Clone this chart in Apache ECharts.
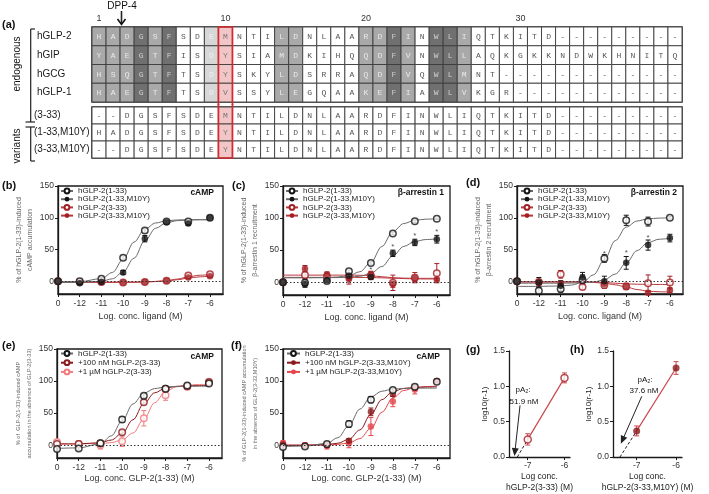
<!DOCTYPE html>
<html><head><meta charset="utf-8">
<script src="https://cdn.jsdelivr.net/npm/echarts@6/dist/echarts.min.js"></script>
<style>html,body{margin:0;padding:0;background:#fff}#c{width:709px;height:494px}</style>
</head><body><div id="c"></div>
<script>
// ================= (a) sequence alignment =================
const positions = ['1','2','3','4','5','6','7','8','9','10','11','12','13','14','15','16','17','18','19','20','21','22','23','24','25','26','27','28','29','30','31','32','33','34','35','36','37','38','39','40','41','42'];
const positionLabels = {0:'1', 9:'10', 19:'20', 30:'30'};
const endoNames = ['hGLP-2','hGIP','hGCG','hGLP-1'];
const endoSeqs = [
  'HADGSFSDEMNTILDNLAARDFINWLIQTKITD---------',
  'YAEGTFISDYSIAMDKIHQQDFVNWLLAQKGKKNDWKHNITQ',
  'HSQGTFTSDYSKYLDSRRAQDFVQWLMNT-------------',
  'HAEGTFTSDVSSYLEGQAAKEFIAWLVKGR------------'];
const varNames = ['(3-33)','(1-33,M10Y)','(3-33,M10Y)'];
const varSeqs = [
  '--DGSFSDEMNTILDNLAARDFINWLIQTKITD---------',
  'HADGSFSDEYNTILDNLAARDFINWLIQTKITD---------',
  '--DGSFSDEYNTILDNLAARDFINWLIQTKITD---------'];
// conservation level per column: 0 none, 1 light, 2 medium, 3 dark, 4 = highlighted position 10
const conservation = [2,2,2,3,2,3,0,0,1,4,0,0,0,2,2,0,0,0,0,2,2,3,2,0,3,3,2,0,0,0,0,0,0,0,0,0,0,0,0,0,0,0];
const highlightCol = 9;

// ================= (b)-(f) concentration response =================
const concX = [-13,-12,-11,-10,-9,-8,-7,-6];          // -13 is the vehicle ("0")
const concTickLabels = ['0','-12','-11','-10','-9','-8','-7','-6'];
const fitX = [-13,-12,-11,-10.5,-10,-9.5,-9,-8.5,-8,-7.5,-7,-6.5,-6];
const pctTicks = [0,50,100,150];

// (b) cAMP
const b_wt = [0,0,4,37,80,94,94,100],      b_wtErr = [0,1,2,3,3,2,2,1];
const b_m10 = [0,-3,-1,14,67,93,91,100],   b_m10Err = [0,2,1,3,5,3,3,1];
const b_t = [0,-1,-1,-2,-1,1,9,11],        b_tErr = [0,1,1,1,1,1,3,3];
const b_tm = [0,-1,-1,-2,-1,1,6,8],        b_tmErr = [0,1,1,1,1,1,2,2];
const b_wtFit = [-1,-0.5,4.2,13.8,34.3,61.7,82.2,91.8,95.3,96.5,96.9,97,97];
const b_m10Fit = [-2,-1.8,0,3.9,14.5,36.3,64,83.5,92.3,95.5,96.5,96.9,97];
const b_tFit = [-1.5,-1.5,-1.5,-1.5,-1.5,-1.4,-1,-0.2,1,3.5,7,9.5,10.5];
const b_tmFit = [-1.5,-1.5,-1.5,-1.5,-1.5,-1.4,-1,-0.4,0.5,2.5,5,7,8];

// (c) beta-arrestin 1
const c_wt = [0,-1,2,17,30,76,95,99],      c_wtErr = [0,5,3,2,2,2,2,1];
const c_m10 = [0,-3,3,10,8,45,62,67],      c_m10Err = [0,5,4,3,3,5,5,6];
const c_t = [0,11,9,9,10,-1,7,14],         c_tErr = [0,5,5,6,6,12,8,15];
const c_tm = [0,21,12,5,12,-3,6,4],        c_tmErr = [0,5,4,8,5,5,5,2];
const c_wtFit = [7,7,7.3,8,10.2,16.3,31,55.7,79,91.5,96.5,98.3,98.7];
const c_m10Fit = [7,7,7,7.2,7.8,9.3,13.9,24.4,41,55.8,63.5,66.5,67.5];
const c_tFit = [11,11,11,11,11,10.8,10,8.5,7,6.3,6,6,6];
const c_tmFit = [7.5,7.5,7.5,7.5,7.5,7.4,7.2,6.8,6.2,5.6,5.2,5,5];
const c_starX = [-9,-8,-7,-6], c_starY = [19,55,72,78];

// (d) beta-arrestin 2
const d_wt = [0,-15,-12,2,36,96,94,100],   d_wtErr = [0,6,5,8,6,8,7,2];
const d_m10 = [0,-2,-7,6,0,29,57,68],      d_m10Err = [0,8,8,8,8,10,8,6];
const d_t = [0,-1,11,-9,-6,-8,-3,-2],      d_tErr = [0,4,6,4,5,5,13,10];
const d_tm = [0,-2,-4,0,-4,-8,-18,-14],    d_tmErr = [0,4,4,3,3,4,3,4];
const d_wtFit = [-8,-8,-7.3,-5.9,-1.6,10,33.8,64,85.3,94.9,98.3,99.5,99.9];
const d_m10Fit = [-3,-3,-3,-2.8,-2.4,-1.2,2.3,11.4,28.9,48.4,61,66.2,67.6];
const d_tFit = [-1,-1,-1,-1,-1,-1.2,-1.8,-3,-4,-4.6,-4.9,-5,-5];
const d_tmFit = [-1,-1,-1,-1,-1.2,-1.8,-3,-5.5,-9,-13,-15.5,-16.5,-17];
const d_starX = [-9,-8,-7], d_starY = [44,45,68];

// (e) cAMP, GLP-2(3-33) antagonism
const e_wt = [-6,-5,3,40,77,88,93,96],     e_wtErr = [3,3,3,4,3,2,3,2];
const e_100 = [2,2,3,20,67,88,92,98],      e_100Err = [3,3,3,3,3,2,2,2];
const e_1u = [5,2,0,6,42,78,91,99],        e_1uErr = [3,5,6,8,12,8,4,2];
const e_wtFit = [-5,-4.2,2.1,14.5,37.9,64.3,81.1,88.3,90.8,91.6,91.8,92,92];
const e_100Fit = [2,2,4,8,18.6,39.7,64.9,81.7,89.1,91.7,92.6,92.9,93];
const e_1uFit = [2,2,2.7,4,8.2,19,40.6,66.3,83.5,91,93.7,94.6,95];

// (f) cAMP, GLP-2(3-33,M10Y) antagonism
const f_wt = [-3,-2,2,33,71,86,91,99],     f_wtErr = [3,3,3,5,5,3,3,2];
const f_100 = [1,-1,0,7,52,80,90,100],     f_100Err = [3,3,3,3,6,4,4,2];
const f_1u = [3,0,-1,3,29,68,87,100],      f_1uErr = [4,4,5,7,14,8,7,2];
const f_wtFit = [-2,-1.5,2.8,11.8,30.7,56.3,75.3,84.2,87.4,88.5,88.8,89,89];
const f_100Fit = [0,0,1,3.1,9.2,23.8,48.1,71.1,83.6,88.5,90.2,90.7,91];
const f_1uFit = [0,0,0.4,1.2,3.5,10.3,26.3,51.4,73.6,85.3,89.8,91.4,92];

// (g),(h) Schild
const schildX = [-7,-6];
const schildTicks = [-7,-6];
const g_y = [0.25,1.12], g_err = [0.08,0.07], g_intercept = -7.285;
const h_y = [0.37,1.26], h_err = [0.07,0.09], h_intercept = -7.425;

// ================= styles =================
const BLACK = '#141414', GRAYLINE = '#6a6a6a';
const RED = '#a41f24', REDLINE = '#b8383c';
const DARKRED = '#8a1a1c', LIGHTRED = '#ef7b7d', BRIGHTRED = '#e4464c';
const shadeFill = ['#ffffff','#d7d7d7','#a9a9a9','#707070','#f2c5c7'];
const shadeText = ['#555555','#f2f2f2','#e9e9e9','#cfcfcf','#777777'];
const FONT = '"Liberation Sans", Arial, sans-serif';

function buildCells(seqs) {
  const cells = [];
  seqs.forEach((s, r) => {
    for (let i = 0; i < s.length; i++) {
      const lvl = seqs === endoSeqs ? conservation[i] : (i === highlightCol ? 4 : 0);
      cells.push([i, r, s[i], lvl]);
    }
  });
  return cells;
}
const endoCells = buildCells(endoSeqs);
const varCells = buildCells(varSeqs);

function cellRenderer(cells) {
  return function (params, api) {
    const cell = cells[params.dataIndex];
    const c = api.coord([cell[0], cell[1]]);
    const s = api.size([1, 1]);
    return {type: 'group', children: [
      {type: 'rect', shape: {x: c[0] - s[0] / 2, y: c[1] - s[1] / 2, width: s[0], height: s[1]},
        style: {fill: shadeFill[cell[3]], stroke: '#3c3c3c', lineWidth: 0.9}},
      {type: 'text', style: {x: c[0], y: c[1] + 0.5, text: cell[2], align: 'center', verticalAlign: 'middle',
        font: '8px "Liberation Mono", "DejaVu Sans Mono", monospace', fill: shadeText[cell[3]]}}
    ]};
  };
}
function outlineRenderer(nRows, openBottom) {
  return function (params, api) {
    const a = api.coord([api.value(0), 0]), b = api.coord([api.value(0), nRows - 1]);
    const s = api.size([1, 1]);
    const x0 = a[0] - s[0] / 2, x1 = a[0] + s[0] / 2;
    let y0 = a[1] - s[1] / 2, y1 = b[1] + s[1] / 2;
    let pts;
    if (openBottom) { y1 += 3; pts = [[x0, y1], [x0, y0], [x1, y0], [x1, y1]]; }
    else { y0 -= 3; pts = [[x0, y0], [x0, y1], [x1, y1], [x1, y0]]; }
    return {type: 'polyline', shape: {points: pts}, style: {fill: 'none', stroke: '#d32a2f', lineWidth: 1.7}};
  };
}

function errRender(params, api) {
  const x = api.value(0), lo = api.value(1), hi = api.value(2);
  if (!(hi - lo > 0)) return null;
  const a = api.coord([x, hi]), b = api.coord([x, lo]);
  const w = 2.5, st = {stroke: api.visual('color'), lineWidth: 1};
  return {type: 'group', children: [
    {type: 'line', shape: {x1: a[0], y1: a[1], x2: b[0], y2: b[1]}, style: st},
    {type: 'line', shape: {x1: a[0] - w, y1: a[1], x2: a[0] + w, y2: a[1]}, style: st},
    {type: 'line', shape: {x1: b[0] - w, y1: b[1], x2: b[0] + w, y2: b[1]}, style: st}]};
}

const series = [];
// alignment
series.push({type: 'custom', xAxisIndex: 0, yAxisIndex: 0, data: endoCells.map(c => [c[0], c[1]]),
  renderItem: cellRenderer(endoCells), silent: true, z: 2});
series.push({type: 'custom', xAxisIndex: 1, yAxisIndex: 1, data: varCells.map(c => [c[0], c[1]]),
  renderItem: cellRenderer(varCells), silent: true, z: 2});
series.push({type: 'custom', xAxisIndex: 0, yAxisIndex: 0, data: [[highlightCol, 0]], clip: false,
  renderItem: outlineRenderer(endoSeqs.length, true), silent: true, z: 5});
series.push({type: 'custom', xAxisIndex: 1, yAxisIndex: 1, data: [[highlightCol, 0]], clip: false,
  renderItem: outlineRenderer(varSeqs.length, false), silent: true, z: 5});

const zeroLine = {silent: true, symbol: 'none', label: {show: false},
  lineStyle: {type: [1.5, 2], color: '#333', width: 1}, data: [{yAxis: 0}]};

function addGroup(gi, name, means, errs, fit, color, lineColor, open, withZero) {
  const s = {type: 'line', name, xAxisIndex: gi, yAxisIndex: gi,
    data: fitX.map((x, i) => [x, fit[i]]), smooth: 0.35, smoothMonotone: 'x', showSymbol: false,
    symbol: open ? 'emptyCircle' : 'circle', lineStyle: {color: lineColor, width: 1},
    itemStyle: {color: color}, z: 2, silent: true};
  if (withZero) s.markLine = zeroLine;
  series.push(s);
  series.push({type: 'custom', name: name + ' SEM', xAxisIndex: gi, yAxisIndex: gi,
    data: concX.map((x, i) => [x, means[i] - errs[i], means[i] + errs[i]]),
    renderItem: errRender, itemStyle: {color: color}, z: 3, silent: true});
  series.push({type: 'scatter', name: name + ' mean', xAxisIndex: gi, yAxisIndex: gi,
    data: concX.map((x, i) => [x, means[i]]), symbol: 'circle', symbolSize: 6.5,
    itemStyle: open ? {color: '#fff', borderColor: color, borderWidth: 1.5} : {color: color},
    z: 4, silent: true});
}
function addStars(gi, xs, ys) {
  series.push({type: 'scatter', xAxisIndex: gi, yAxisIndex: gi, data: xs.map((x, i) => [x, ys[i]]),
    symbolSize: 1, itemStyle: {color: 'rgba(0,0,0,0)'}, silent: true, z: 5,
    label: {show: true, formatter: '*', position: 'inside', fontSize: 8, color: '#222'}});
}
const N1 = 'hGLP-2(1-33)', N2 = 'hGLP-2(1-33,M10Y)', N3 = 'hGLP-2(3-33)', N4 = 'hGLP-2(3-33,M10Y)';
// (b)
addGroup(2, N3, b_t, b_tErr, b_tFit, RED, REDLINE, true, true);
addGroup(2, N4, b_tm, b_tmErr, b_tmFit, RED, REDLINE, false, false);
addGroup(2, N1, b_wt, b_wtErr, b_wtFit, BLACK, GRAYLINE, true, false);
addGroup(2, N2, b_m10, b_m10Err, b_m10Fit, BLACK, GRAYLINE, false, false);
// (c)
addGroup(3, N3, c_t, c_tErr, c_tFit, RED, REDLINE, true, true);
addGroup(3, N4, c_tm, c_tmErr, c_tmFit, RED, REDLINE, false, false);
addGroup(3, N1, c_wt, c_wtErr, c_wtFit, BLACK, GRAYLINE, true, false);
addGroup(3, N2, c_m10, c_m10Err, c_m10Fit, BLACK, GRAYLINE, false, false);
addStars(3, c_starX, c_starY);
// (d)
addGroup(4, N3, d_t, d_tErr, d_tFit, RED, REDLINE, true, true);
addGroup(4, N4, d_tm, d_tmErr, d_tmFit, RED, REDLINE, false, false);
addGroup(4, N1, d_wt, d_wtErr, d_wtFit, BLACK, GRAYLINE, true, false);
addGroup(4, N2, d_m10, d_m10Err, d_m10Fit, BLACK, GRAYLINE, false, false);
addStars(4, d_starX, d_starY);
// (e)
const E2 = '+100 nM hGLP-2(3-33)', E3 = '+1 µM hGLP-2(3-33)';
addGroup(5, E3, e_1u, e_1uErr, e_1uFit, LIGHTRED, LIGHTRED, true, true);
addGroup(5, E2, e_100, e_100Err, e_100Fit, DARKRED, DARKRED, true, false);
addGroup(5, N1, e_wt, e_wtErr, e_wtFit, BLACK, GRAYLINE, true, false);
// (f)
const F2 = '+100 nM hGLP-2(3-33,M10Y)', F3 = '+1 µM hGLP-2(3-33,M10Y)';
addGroup(6, F3, f_1u, f_1uErr, f_1uFit, BRIGHTRED, BRIGHTRED, false, true);
addGroup(6, F2, f_100, f_100Err, f_100Fit, DARKRED, DARKRED, false, false);
addGroup(6, N1, f_wt, f_wtErr, f_wtFit, BLACK, GRAYLINE, true, false);

// (g),(h) Schild plots
function addSchild(gi, ys, errs, intercept, color, open, arrowFrom, arrowTo) {
  series.push({type: 'line', xAxisIndex: gi, yAxisIndex: gi, data: [[intercept, 0], [schildX[0], ys[0]]],
    showSymbol: false, lineStyle: {color: '#222', width: 1, type: [3, 2]}, silent: true, z: 2,
    markLine: {silent: true, symbol: ['none', 'triangle'], symbolSize: [7, 8], label: {show: false},
      lineStyle: {color: '#222', width: 1, type: 'solid'},
      data: [[{coord: arrowFrom}, {coord: arrowTo}]]}});
  series.push({type: 'line', xAxisIndex: gi, yAxisIndex: gi, data: schildX.map((x, i) => [x, ys[i]]),
    showSymbol: false, lineStyle: {color: '#c9474b', width: 1.2}, silent: true, z: 2});
  series.push({type: 'custom', xAxisIndex: gi, yAxisIndex: gi,
    data: schildX.map((x, i) => [x, ys[i] - errs[i], ys[i] + errs[i]]),
    renderItem: errRender, itemStyle: {color: '#c9474b'}, z: 3, silent: true});
  series.push({type: 'scatter', xAxisIndex: gi, yAxisIndex: gi, data: schildX.map((x, i) => [x, ys[i]]),
    symbolSize: 7, itemStyle: open ? {color: '#fff', borderColor: color, borderWidth: 1.5} : {color: color},
    z: 4, silent: true});
}
addSchild(7, g_y, g_err, g_intercept, RED, true, [-7.21, 0.73], [-7.35, 0.07]);
addSchild(8, h_y, h_err, h_intercept, DARKRED, false, [-6.87, 0.86], [-7.36, 0.24]);

// ================= axes =================
const grids = [
  {left: 92, top: 27, width: 590, height: 75},
  {left: 92, top: 107, width: 590, height: 51},
  {left: 58, top: 186, width: 165, height: 108},
  {left: 283, top: 186, width: 167, height: 109},
  {left: 517, top: 186, width: 166, height: 108},
  {left: 57, top: 349, width: 165, height: 109},
  {left: 283, top: 349, width: 167, height: 109},
  {left: 509, top: 351, width: 61, height: 109},
  {left: 613, top: 351, width: 69, height: 109}
].map((g, i) => Object.assign(g, i >= 2 && i <= 6 ? {show: true, borderColor: '#1a1a1a', borderWidth: 1.3} : (i < 2 ? {show: true, borderColor: '#333', borderWidth: 1.6} : {})));

const xAxes = [
  {type: 'category', gridIndex: 0, data: positions, position: 'top',
    axisLine: {show: false}, axisTick: {show: false}, splitLine: {show: false},
    axisLabel: {interval: 0, formatter: (v, i) => positionLabels[i] || '', fontSize: 9, color: '#333', margin: 4}},
  {type: 'category', gridIndex: 1, data: positions, show: false}
];
const yAxes = [
  {type: 'category', gridIndex: 0, data: endoNames, inverse: true, axisLine: {show: false}, axisTick: {show: false},
    axisLabel: {align: 'left', margin: 55, fontSize: 10, color: '#1a1a1a'}},
  {type: 'category', gridIndex: 1, data: varNames, inverse: true, axisLine: {show: false}, axisTick: {show: false},
    axisLabel: {align: 'left', margin: 58, fontSize: 10, color: '#1a1a1a'}}
];
function concXAxis(gi, name, gap) {
  return {type: 'value', gridIndex: gi, min: -13, max: -5.4, name, nameLocation: 'middle', nameGap: gap,
    nameTextStyle: {fontSize: 9, color: '#333'},
    axisLine: {onZero: false, lineStyle: {color: '#1a1a1a', width: 1.3}},
    axisTick: {customValues: concX, length: 3, lineStyle: {color: '#1a1a1a', width: 1}},
    axisLabel: {customValues: concX, formatter: v => concTickLabels[concX.indexOf(v)], fontSize: 8.5, color: '#333', margin: 5},
    splitLine: {show: false}};
}
function pctYAxis(gi, name, fs, lh, gap) {
  return {type: 'value', gridIndex: gi, min: -20, max: 150, name, nameLocation: 'middle', nameGap: gap, nameRotate: 90,
    nameTextStyle: {fontSize: fs, lineHeight: lh, color: '#666'},
    axisLine: {onZero: false, lineStyle: {color: '#1a1a1a', width: 1.3}},
    axisTick: {customValues: pctTicks, length: 3, lineStyle: {color: '#1a1a1a'}},
    axisLabel: {customValues: pctTicks, fontSize: 8.5, color: '#333', margin: 4},
    splitLine: {show: false}};
}
function schildXAxis(gi, min, name) {
  return {type: 'value', gridIndex: gi, min, max: -5.85, name, nameLocation: 'middle', nameGap: 13,
    nameTextStyle: {fontSize: 8.5, color: '#222', lineHeight: 11},
    axisLine: {onZero: false, lineStyle: {color: '#1a1a1a', width: 1.3}},
    axisTick: {customValues: schildTicks, length: 3, lineStyle: {color: '#1a1a1a'}},
    axisLabel: {customValues: schildTicks, fontSize: 8.5, color: '#333', margin: 4}, splitLine: {show: false}};
}
function schildYAxis(gi) {
  return {type: 'value', gridIndex: gi, min: 0, max: 1.5, interval: 0.5, name: 'log10(r-1)', nameLocation: 'middle',
    nameGap: 20, nameRotate: 90, nameTextStyle: {fontSize: 8, color: '#222'},
    axisLine: {onZero: false, lineStyle: {color: '#1a1a1a', width: 1.3}},
    axisTick: {length: 3, lineStyle: {color: '#1a1a1a'}},
    axisLabel: {formatter: v => v.toFixed(1), fontSize: 8.5, color: '#333', margin: 4}, splitLine: {show: false}};
}
xAxes.push(concXAxis(2, 'Log. conc. ligand (M)', 18));
xAxes.push(concXAxis(3, 'Log. conc. ligand (M)', 18));
xAxes.push(concXAxis(4, 'Log. conc. ligand (M)', 18));
xAxes.push(concXAxis(5, 'Log. conc. GLP-2(1-33) (M)', 16));
xAxes.push(concXAxis(6, 'Log. conc. GLP-2(1-33) (M)', 16));
xAxes.push(schildXAxis(7, -7.51, 'Log conc.\nhGLP-2(3-33) (M)'));
xAxes.push(schildXAxis(8, -7.6, 'Log conc.\nhGLP-2(3-33,M10Y) (M)'));
yAxes.push(pctYAxis(2, '% of hGLP-2(1-33)-induced\ncAMP accumulation', 7, 11, 19));
yAxes.push(pctYAxis(3, '% of hGLP-2(1-33)-induced\nβ-arrestin 1 recruitment', 7, 11, 19));
yAxes.push(pctYAxis(4, '% of hGLP-2(1-33)-induced\nβ-arrestin 2 recruitment', 7, 11, 19));
yAxes.push(pctYAxis(5, '% of  GLP-2(1-33)-induced cAMP\naccumulation in the absence of GLP-2(3-33)', 5.6, 11, 20));
yAxes.push(pctYAxis(6, '% of GLP-2(1-33)-induced cAMP accumulation\nin the absence of GLP-2(3-33,M10Y)', 5.6, 11, 20));
yAxes.push(schildYAxis(7));
yAxes.push(schildYAxis(8));

function legendAt(left, top, names, lh, iw) {
  return {data: names, left, top, orient: 'vertical', itemWidth: iw, itemHeight: 6, itemGap: 0.2, padding: 0,
    selectedMode: false, textStyle: {fontSize: 8, color: '#222', lineHeight: lh, fontFamily: FONT}};
}
const legends = [
  legendAt(60, 187, [N1, N2, N3, N4], 7.2, 12),
  legendAt(285, 187, [N1, N2, N3, N4], 7.2, 12),
  legendAt(520, 187, [N1, N2, N3, N4], 7.2, 12),
  legendAt(60, 349, [N1, E2, E3], 9, 12),
  legendAt(286, 349, [N1, F2, F3], 9, 13)
];

// ================= annotations =================
const T = (x, y, text, font, opts) => Object.assign({type: 'text', x, y, silent: true,
  style: Object.assign({text, font: font + ' ' + FONT, fill: '#111', align: 'left', verticalAlign: 'middle'}, (opts || {}).style || {})},
  (opts || {}).el || {});
const L = (x1, y1, x2, y2, w) => ({type: 'line', silent: true, shape: {x1, y1, x2, y2}, style: {stroke: '#222', lineWidth: w || 1.2}});
const graphic = [
  T(2, 25, '(a)', 'bold 11px'),
  T(122, 6, 'DPP-4', '10px', {style: {align: 'center'}}),
  L(121.5, 11, 121.5, 24, 1.6),
  {type: 'polyline', silent: true, shape: {points: [[117.5, 19], [121.5, 24.5], [125.5, 19]]}, style: {stroke: '#111', lineWidth: 1.6, fill: 'none'}},
  T(17, 64, 'endogenous', '10px', {style: {align: 'center'}, el: {rotation: Math.PI / 2}}),
  L(30.7, 29, 30.7, 122), L(30.7, 29, 35, 29), L(25.5, 122, 35, 122),
  T(17, 146, 'variants', '10px', {style: {align: 'center'}, el: {rotation: Math.PI / 2}}),
  L(30.7, 127, 30.7, 161), L(25.5, 127, 35, 127), L(30.7, 161, 35, 161),
  T(2, 186, '(b)', 'bold 11px'), T(232, 186, '(c)', 'bold 11px'), T(466, 183, '(d)', 'bold 11px'),
  T(2, 346, '(e)', 'bold 11px'), T(231, 346, '(f)', 'bold 11px'),
  T(466, 350, '(g)', 'bold 11px'), T(570, 350, '(h)', 'bold 11px'),
  T(214, 193, 'cAMP', 'bold 8.5px', {style: {align: 'right'}}),
  T(444, 193, 'β-arrestin 1', 'bold 8.5px', {style: {align: 'right'}}),
  T(677, 193, 'β-arrestin 2', 'bold 8.5px', {style: {align: 'right'}}),
  T(214, 357, 'cAMP', 'bold 8.5px', {style: {align: 'right'}}),
  T(440, 357, 'cAMP', 'bold 8.5px', {style: {align: 'right'}}),
  T(523, 390, 'pA₂:', '8px', {style: {align: 'center'}}),
  T(524, 402, '51.9 nM', '8px', {style: {align: 'center'}}),
  T(645, 380, 'pA₂:', '8px', {style: {align: 'center'}}),
  T(644, 391, '37.6 nM', '8px', {style: {align: 'center'}})
];

const chart = echarts.init(document.getElementById('c'), null, {renderer: 'canvas'});
chart.setOption({
  animation: false,
  backgroundColor: '#fff',
  textStyle: {fontFamily: FONT},
  grid: grids, xAxis: xAxes, yAxis: yAxes, legend: legends, series, graphic
});
</script></body></html>
